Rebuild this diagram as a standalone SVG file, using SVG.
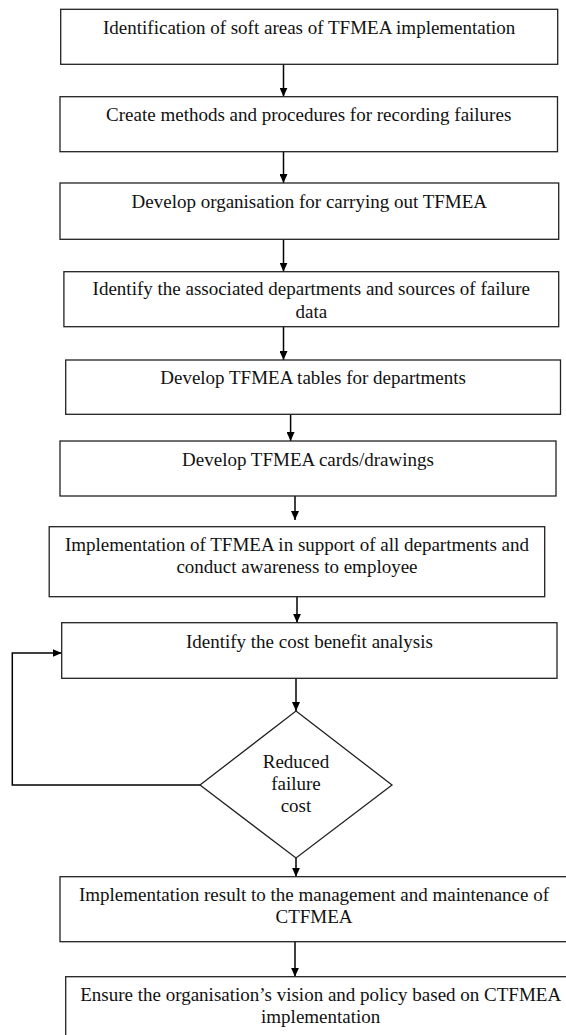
<svg xmlns="http://www.w3.org/2000/svg" width="566" height="1035" viewBox="0 0 566 1035">
<style>
.box{fill:#fff;stroke:#222;stroke-width:1.3}
.t{font-family:"Liberation Serif","Times New Roman",serif;font-size:19px;fill:#111;text-anchor:middle}
.c{fill:none;stroke:#000;stroke-width:1.5}
</style>
<defs>
<marker id="ah" viewBox="0 0 10 10" refX="10" refY="5" markerWidth="6" markerHeight="6" markerUnits="userSpaceOnUse" orient="auto">
<path d="M0,0 L10,5 L0,10 Z" fill="#000"/>
</marker>
<marker id="ah2" viewBox="0 0 10 10" refX="10" refY="5" markerWidth="9" markerHeight="8" markerUnits="userSpaceOnUse" orient="auto" preserveAspectRatio="none">
<path d="M0,0 L10,5 L0,10 Z" fill="#000"/>
</marker>
</defs>
<rect width="566" height="1035" fill="#fff"/>
<g id="connectors">
<path class="c" d="M283.5,64.3 V96.7" marker-end="url(#ah2)"/>
<path class="c" d="M283.5,151.7 V183" marker-end="url(#ah2)"/>
<path class="c" d="M283.5,239.3 V271.7" marker-end="url(#ah2)"/>
<path class="c" d="M283.5,326.7 V360" marker-end="url(#ah2)"/>
<path class="c" d="M290.6,414.3 V441" marker-end="url(#ah2)"/>
<path class="c" d="M295,496 V520" marker-end="url(#ah2)"/>
<path class="c" d="M297,596.7 V622.7" marker-end="url(#ah2)"/>
<path class="c" d="M296,678.3 V711" marker-end="url(#ah2)"/>
<path class="c" d="M296,858 V876.7" marker-end="url(#ah2)"/>
<path class="c" d="M295,941.7 V976.7" marker-end="url(#ah2)"/>
<path class="c" d="M200,785 H12.3 V653 H61.7" marker-end="url(#ah2)"/>
</g>
<g id="n1"><rect class="box" x="60.7" y="9.3" width="497" height="55"/><text class="t" x="309.2" y="34">Identification of soft areas of TFMEA implementation</text></g>
<g id="n2"><rect class="box" x="60" y="96.7" width="497.5" height="55"/><text class="t" x="308.7" y="120.5">Create methods and procedures for recording failures</text></g>
<g id="n3"><rect class="box" x="60" y="183" width="498.7" height="56.3"/><text class="t" x="309.3" y="208">Develop organisation for carrying out TFMEA</text></g>
<g id="n4"><rect class="box" x="63.9" y="271.7" width="494.8" height="55"/><text class="t" x="311.3" y="295">Identify the associated departments and sources of failure</text><text class="t" x="311.3" y="317.5">data</text></g>
<g id="n5"><rect class="box" x="65.7" y="360" width="494.8" height="54.3"/><text class="t" x="313.1" y="384">Develop TFMEA tables for departments</text></g>
<g id="n6"><rect class="box" x="60" y="441" width="496" height="55"/><text class="t" x="308" y="465.5">Develop TFMEA cards/drawings</text></g>
<g id="n7"><rect class="box" x="49.2" y="526.7" width="495.5" height="70"/><text class="t" x="297" y="550.5">Implementation of TFMEA in support of all departments and</text><text class="t" x="297" y="572.5">conduct awareness to employee</text></g>
<g id="n8"><rect class="box" x="61.7" y="622.7" width="495.3" height="55.6"/><text class="t" x="309.4" y="647.5">Identify the cost benefit analysis</text></g>
<g id="n9"><path class="box" d="M296,711 L392,785 L296,858 L200,785 Z"/><text class="t" x="296" y="768">Reduced</text><text class="t" x="296" y="790">failure</text><text class="t" x="296" y="812">cost</text></g>
<g id="n10"><rect class="box" x="60" y="876.7" width="508" height="65"/><text class="t" x="314" y="900.5">Implementation result to the management and maintenance of</text><text class="t" x="314" y="922.5">CTFMEA</text></g>
<g id="n11"><rect class="box" x="65.7" y="976.7" width="510" height="70"/><text class="t" x="320.7" y="1000.5">Ensure the organisation’s vision and policy based on CTFMEA</text><text class="t" x="320.7" y="1022.5">implementation</text></g>
</svg>
